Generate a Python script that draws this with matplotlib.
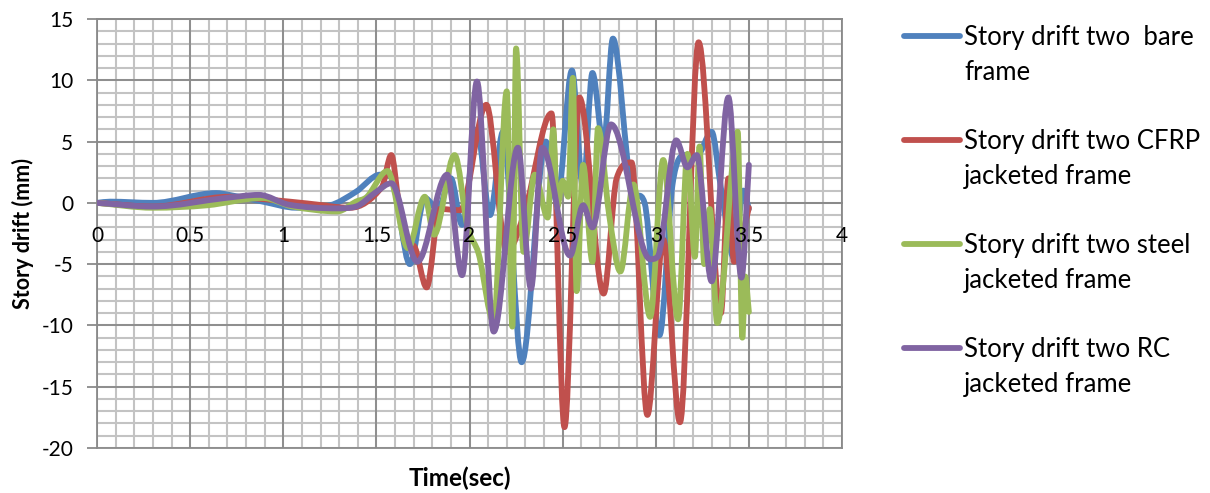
"""Story drift time history, four frame variants."""

import numpy as np
import matplotlib
matplotlib.use('Agg')
import matplotlib.pyplot as plt
from matplotlib.path import Path
from matplotlib.patches import PathPatch
from matplotlib.lines import Line2D

plt.rcParams['font.family'] = ['Lato', 'DejaVu Sans']
plt.rcParams['axes.unicode_minus'] = False

# ---- data ----
bare_t = [0, 0.07, 0.30, 0.64, 0.71, 0.89, 1.07, 1.25, 1.39, 1.52, 1.58, 1.68, 1.76, 1.83,
          1.90, 1.96, 2.04, 2.11, 2.18, 2.28, 2.41, 2.47, 2.55, 2.61, 2.66, 2.72, 2.77, 2.87,
          2.94, 3.02, 3.09, 3.16, 3.22, 3.30, 3.35, 3.42, 3.47, 3.50]
bare_v = [0, 0.1, 0, 0.8, 0.65, 0.1, -0.4, -0.2, 0.9, 2.3, 2.1, -5.0, 0.4, -0.5,
          2.0, -1.8, 6.0, -1.0, 5.8, -13.0, 5.0, 0.0, 10.8, 1.2, 10.6, 4.7, 13.4, 1.2,
          0.0, -10.8, 1.5, 3.9, 3.8, 5.8, 1.2, -4.5, 1.0, -0.5]

cfrp_t = [0, 0.30, 0.71, 0.93, 1.13, 1.36, 1.53, 1.58, 1.62, 1.66, 1.70, 1.77, 1.84, 1.95,
          2.09, 2.20, 2.30, 2.44, 2.51, 2.59, 2.72, 2.79, 2.87, 2.955, 3.04, 3.13, 3.23,
          3.35, 3.39, 3.42, 3.50]
cfrp_v = [0, -0.3, 0.5, 0.25, -0.05, -0.4, 1.3, 3.9, 0.0, -3.4, -3.5, -6.9, -0.5, -0.6,
          8.0, -4.0, -0.5, 7.3, -18.3, 8.6, -7.4, 2.0, 3.3, -17.3, -3.0, -17.9, 13.1,
          -9.0, 2.0, -4.8, -0.4]

steel_t = [0, 0.30, 0.59, 0.89, 1.05, 1.29, 1.39, 1.45, 1.56, 1.67, 1.76, 1.81, 1.92, 1.99,
           2.05, 2.13, 2.20, 2.23, 2.25, 2.29, 2.35, 2.42, 2.45, 2.47, 2.50, 2.53, 2.555,
           2.575, 2.61, 2.66, 2.69, 2.75, 2.81, 2.88, 2.97, 3.04, 3.12, 3.17, 3.21, 3.235,
           3.26, 3.29, 3.33, 3.44, 3.465, 3.48, 3.50]
steel_v = [0, -0.4, -0.2, 0.4, -0.3, -0.7, 0.1, 0.5, 2.6, -3.7, 0.5, -2.6, 3.9, -2.0,
           -4.2, -9.7, 9.1, -10.1, 12.6, -4.0, 2.3, -1.2, 6.0, -0.4, 1.8, 0.5, 10.2,
           -7.2, 3.1, -4.8, 6.1, -1.0, -5.6, 1.5, -9.3, 3.5, -9.5, 4.0, -4.4, 4.6,
           -5.0, -0.5, -9.8, 5.8, -11.0, -6.0, -8.9]

rc_t = [0, 0.30, 0.69, 0.87, 1.03, 1.29, 1.39, 1.50, 1.58, 1.72, 1.88, 1.96, 2.04, 2.13,
        2.26, 2.33, 2.39, 2.54, 2.61, 2.66, 2.76, 2.97, 3.01, 3.11, 3.17, 3.22, 3.30,
        3.39, 3.46, 3.50]
rc_v = [0, -0.3, 0.4, 0.65, -0.15, -0.45, -0.3, 0.9, 1.6, -4.8, 2.3, -5.9, 9.9, -10.5,
        4.5, -7.0, 4.5, -4.3, -0.2, -2.0, 6.4, -4.6, -4.4, 5.1, 2.9, 3.9, -6.4,
        8.6, -6.1, 3.1]

labels = [('Story drift two  bare', 'frame'),
          ('Story drift two CFRP', 'jacketed frame'),
          ('Story drift two steel', 'jacketed frame'),
          ('Story drift two RC', 'jacketed frame')]
colors = ['#4F81BD', '#C0504D', '#9BBB59', '#8064A2']
series = [(bare_t, bare_v), (cfrp_t, cfrp_v), (steel_t, steel_v), (rc_t, rc_v)]
x_ticks = ['0', '0.5', '1', '1.5', '2', '2.5', '3', '3.5', '4']


def smooth_path(t, v):
    # smoothed line like a spreadsheet chart: cubic bezier through each point,
    # flat tangent at peaks so the extremes stay where they were read
    x = np.asarray(t, float)
    y = np.asarray(v, float)
    n = len(x)
    m = np.zeros(n)
    for i in range(1, n - 1):
        d0 = (y[i] - y[i - 1]) / (x[i] - x[i - 1])
        d1 = (y[i + 1] - y[i]) / (x[i + 1] - x[i])
        if d0 * d1 > 0:
            m[i] = (y[i + 1] - y[i - 1]) / (x[i + 1] - x[i - 1])
            m[i] = np.sign(m[i]) * min(abs(m[i]), 3 * min(abs(d0), abs(d1)))
    m[0] = (y[1] - y[0]) / (x[1] - x[0])
    m[-1] = (y[-1] - y[-2]) / (x[-1] - x[-2])
    verts = [(x[0], y[0])]
    codes = [Path.MOVETO]
    for i in range(n - 1):
        dx = x[i + 1] - x[i]
        verts += [(x[i] + dx / 3, y[i] + m[i] * dx / 3),
                  (x[i + 1] - dx / 3, y[i + 1] - m[i + 1] * dx / 3),
                  (x[i + 1], y[i + 1])]
        codes += [Path.CURVE4] * 3
    return Path(verts, codes)


fig = plt.figure(figsize=(12.1, 4.93), dpi=100)
ax = fig.add_axes([97 / 1210, 1 - 448 / 493, 745 / 1210, 429 / 493])

ax.set_xlim(0, 4)
ax.set_ylim(-20, 15)
ax.set_xticks(np.arange(0, 4.01, 0.5))
ax.set_xticklabels(x_ticks)
ax.set_yticks(np.arange(-20, 15.1, 5))

# grid drawn by hand so the tick labels can sit above the curves
grid_minor = '#c3c3c3'
grid_major = '#8a8a8a'
for gx in np.arange(0, 4.01, 0.1):
    ax.axvline(gx, color=grid_minor, linewidth=1.5, zorder=0.5)
for gy in np.arange(-20, 15.1, 1):
    ax.axhline(gy, color=grid_minor, linewidth=1.5, zorder=0.5)
for gx in np.arange(0, 4.01, 0.5):
    ax.axvline(gx, color=grid_major, linewidth=1.3, zorder=0.6)
for gy in np.arange(-20, 15.1, 5):
    ax.axhline(gy, color=grid_major, linewidth=1.3, zorder=0.6, clip_on=False)

for (t, v), c in zip(series, colors):
    ax.add_patch(PathPatch(smooth_path(t, v), facecolor='none', edgecolor=c,
                           linewidth=4.2, capstyle='round', joinstyle='round', zorder=2))

ax.spines['bottom'].set_position(('data', 0))
for s in ax.spines.values():
    s.set_color(grid_major)
    s.set_linewidth(1.3)
    s.set_zorder(0.7)

ax.tick_params(axis='x', which='both', length=0, pad=17, labelsize=15, labelcolor='black')
ax.tick_params(axis='y', which='major', length=7, width=1.3, color=grid_major,
               pad=10, labelsize=15, labelcolor='black')
ax.xaxis.set_zorder(4)
ax.yaxis.set_zorder(4)

ax.set_xlabel('Time(sec)', fontsize=17.5, fontweight='bold')
ax.xaxis.set_label_coords(0.487, -0.07)
ax.xaxis.label.set_va('center')
ax.set_ylabel('Story drift (mm)', fontsize=15.5, fontweight='bold')
ax.yaxis.set_label_coords(-0.1, 0.5)
ax.yaxis.label.set_va('center')

# legend drawn to the right of the plot area
for k, ((l1, l2), c) in enumerate(zip(labels, colors)):
    y0 = 36 + 104 * k
    fig.add_artist(Line2D([904 / 1210, 960 / 1210], [1 - y0 / 493, 1 - y0 / 493],
                          color=c, linewidth=4.2, solid_capstyle='round'))
    fig.text(964 / 1210, 1 - (y0 + 9) / 493, l1, fontsize=18.5, va='baseline', ha='left')
    fig.text(964 / 1210, 1 - (y0 + 44) / 493, l2, fontsize=18.5, va='baseline', ha='left')

fig.savefig('out.png', dpi=100, facecolor='white')
